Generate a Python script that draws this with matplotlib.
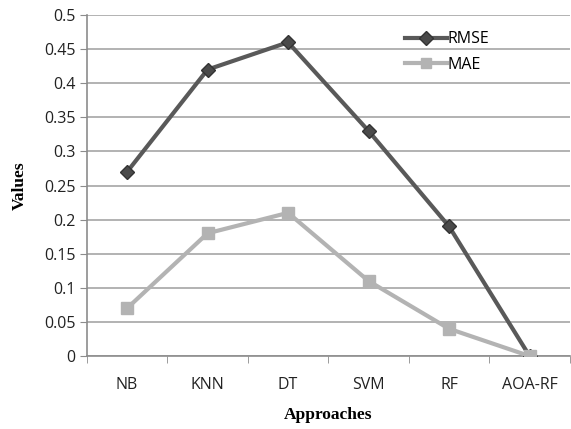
import numpy as np
import matplotlib.pyplot as plt

approaches = ['NB', 'KNN', 'DT', 'SVM', 'RF', 'AOA-RF']
rmse = [0.27, 0.42, 0.46, 0.33, 0.19, 0.0]
mae = [0.07, 0.18, 0.21, 0.11, 0.04, 0.0]
yticks = [0, 0.05, 0.1, 0.15, 0.2, 0.25, 0.3, 0.35, 0.4, 0.45, 0.5]

fig = plt.figure(figsize=(5.71, 4.29), dpi=100)
ax = fig.add_axes([0.152, 0.170, 0.846, 0.795])

x = np.arange(len(approaches))
ax.plot(x, rmse, color='#595959', lw=3, marker='D', ms=7,
        mfc='#4a4a4a', mec='#333333', mew=1, label='RMSE', zorder=3)
ax.plot(x, mae, color='#b3b3b3', lw=3, marker='s', ms=9,
        mfc='#b3b3b3', mec='#b3b3b3', label='MAE', zorder=3)

ax.set_xlim(-0.5, len(approaches) - 0.5)
ax.set_ylim(0, 0.5)
ax.set_yticks(yticks)
ax.set_yticklabels([f'{v:g}' for v in yticks])
ax.yaxis.grid(True, color='#a6a6a6', lw=1.2)
ax.set_axisbelow(True)

# category labels centred, tick marks between categories
ax.set_xticks(x)
ax.set_xticklabels(approaches)
ax.set_xticks(np.arange(-0.5, len(approaches)), minor=True)
ax.tick_params(axis='x', which='major', length=0, pad=15)
ax.tick_params(axis='x', which='minor', length=5, color='#8c8c8c')
ax.tick_params(axis='y', length=5, color='#8c8c8c', pad=3)
ax.tick_params(labelsize=11.5, labelcolor='#222222')
for lab in ax.get_xticklabels() + ax.get_yticklabels():
    lab.set_family('Open Sans')

for s in ['top', 'right']:
    ax.spines[s].set_visible(False)
for s in ['left', 'bottom']:
    ax.spines[s].set_color('#8c8c8c')
    ax.spines[s].set_linewidth(1.2)

ax.set_xlabel('Approaches', family='Liberation Serif', fontweight='bold',
              fontsize=12.5, labelpad=10)
ax.set_ylabel('Values', family='Liberation Serif', fontweight='bold',
              fontsize=12.5, labelpad=12)

leg = ax.legend(loc='upper left', bbox_to_anchor=(0.63, 0.995), frameon=False,
                handlelength=2.6, handletextpad=0.05, labelspacing=0.6,
                prop={'family': 'Open Sans', 'size': 11.5})
for h in leg.legend_handles:
    h.set_markersize(7)

fig.savefig('out.png', dpi=100)
